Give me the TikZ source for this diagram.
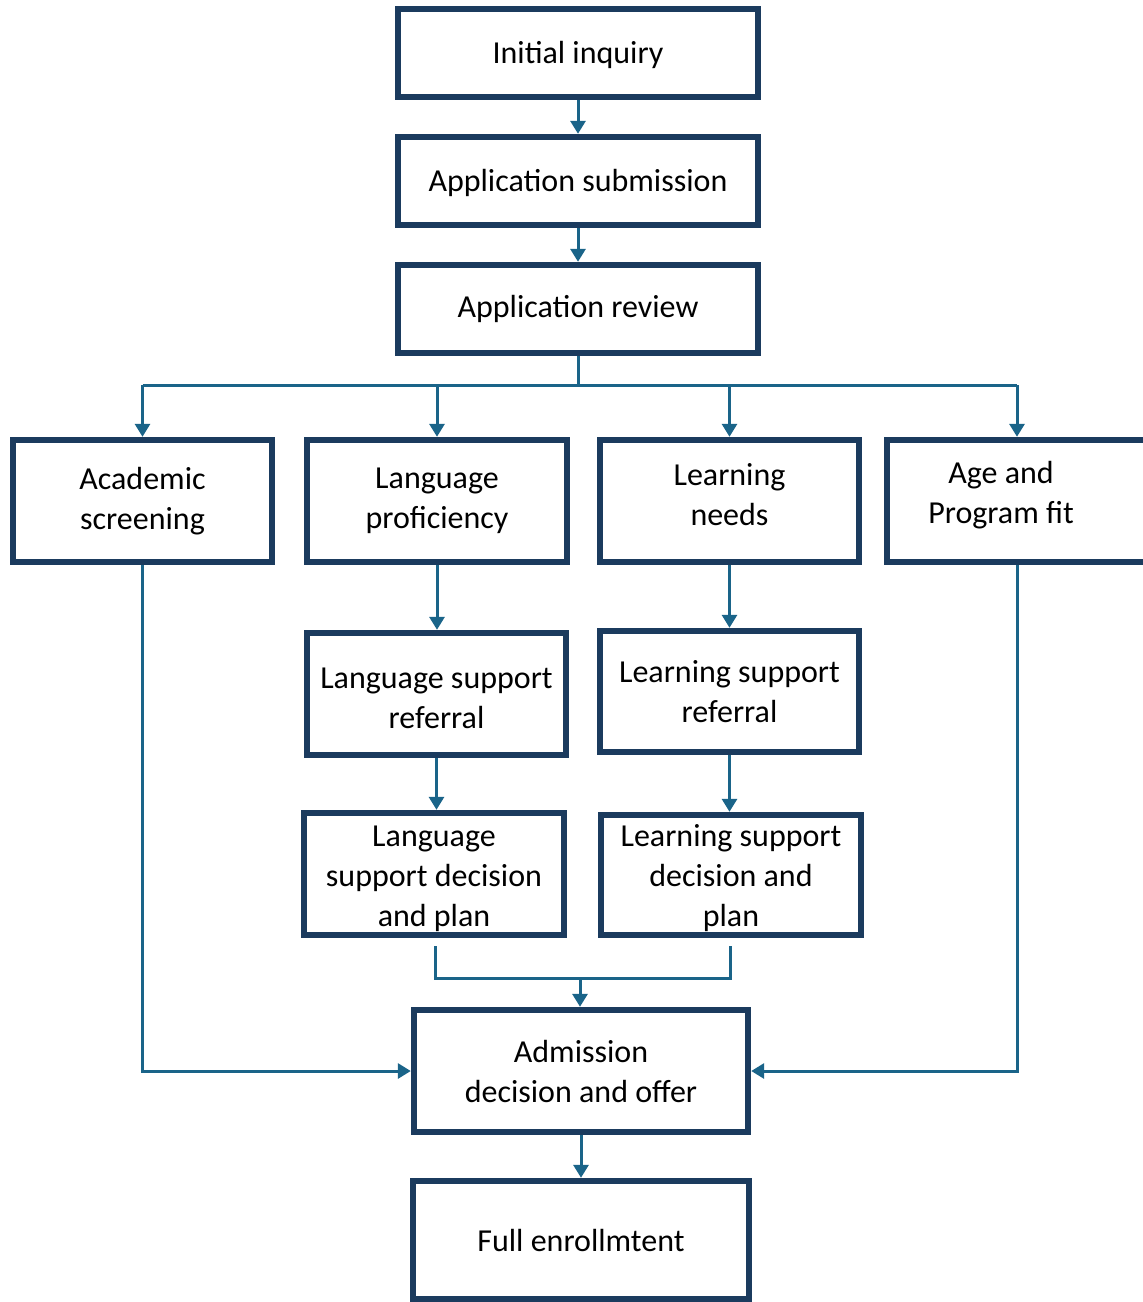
\documentclass[tikz,border=0pt]{standalone}
\usepackage{fontspec}
\setmainfont{Carlito}
\usetikzlibrary{arrows.meta}
\definecolor{boxnavy}{RGB}{27,59,94}
\definecolor{linkteal}{RGB}{26,100,137}
\begin{document}
\begin{tikzpicture}[x=0.5pt,y=-0.5pt,
  txt/.style={align=center, font=\fontsize{16pt}{20pt}\selectfont, inner sep=0pt},
  box/.style={draw=boxnavy, line width=3.2pt, fill=white, txt},
  lbl/.style={txt, draw=none, fill=none},
  link/.style={draw=linkteal, line width=1.5pt},
  arr/.style={link, -{Triangle[width=7.5pt,length=6.5pt]}}]
\clip (0,0) rectangle (1143,1302);
\fill[white] (0,0) rectangle (1143,1302);
% top chain
\node[box, minimum width=180pt, minimum height=44pt, text depth=0.5pt] (init) at (578,53) {Initial inquiry};
\node[box, minimum width=180pt, minimum height=44pt, text depth=0.5pt] (sub) at (578,181) {Application submission};
\node[box, minimum width=180pt, minimum height=44pt] (rev) at (578,309) {Application review};
% second row
\node[box, minimum width=129.5pt, minimum height=61pt] (acad) at (142.5,501) {Academic\\screening};
\node[box, minimum width=130pt, minimum height=61pt] (langp) at (437,501) {Language\\proficiency};
\node[box, minimum width=129.5pt, minimum height=61pt,
  label={[lbl, yshift=3pt]center:{Learning\\needs}}] (learn) at (729.5,501) {};
\node[box, minimum width=130pt, minimum height=61pt,
  label={[lbl, xshift=-8pt, yshift=3pt]center:{Age and\\Program fit}}] (age) at (1017,501) {};
% third row
\node[box, minimum width=129.5pt, minimum height=61pt,
  label={[lbl, yshift=-2pt]center:{Language support\\referral}}] (langref) at (436.5,694) {};
\node[box, minimum width=129.5pt, minimum height=60.5pt] (learnref) at (729.5,691.5) {Learning support\\referral};
% fourth row
\node[box, minimum width=130pt, minimum height=61pt,
  label={[lbl, yshift=-2.5pt]center:{Language\\support decision\\and plan}}] (langdec) at (434,874) {};
\node[box, minimum width=130pt, minimum height=60pt,
  label={[lbl, yshift=-1.5pt]center:{Learning support\\decision and\\plan}}] (learndec) at (731,875) {};
% bottom
\node[box, minimum width=167pt, minimum height=61pt] (adm) at (581,1071) {Admission\\decision and offer};
\node[box, minimum width=168pt, minimum height=59pt] (full) at (581,1240) {Full enrollmtent};
% connectors
\draw[arr] (init) -- (sub);
\draw[arr] (sub) -- (rev);
\coordinate (bus) at (578,385);
\draw[link] (rev.south) -- (bus);
\draw[link] (bus -| acad.north) -- (bus -| age.north);
\draw[arr] (bus -| acad.north) -- (acad.north);
\draw[arr] (bus -| langp.north) -- (langp.north);
\draw[arr] (bus -| learn.north) -- (learn.north);
\draw[arr] (bus -| age.north) -- (age.north);
\draw[arr] (langp.south) -- (langp.south |- langref.north);
\draw[arr] (learn.south) -- (learn.south |- learnref.north);
\draw[arr] (langref.south) -- (langref.south |- langdec.north);
\draw[arr] (learnref.south) -- (learnref.south |- learndec.north);
\coordinate (merge) at (580,978);
\coordinate (ltop) at (435,946);
\coordinate (rtop) at (730,946);
\draw[link] (ltop) -- (ltop |- merge) -- (rtop |- merge) -- (rtop);
\draw[arr] (merge) -- (merge |- adm.north);
\draw[arr] (acad.south) |- (adm.west);
\draw[arr] (age.south) |- (adm.east);
\draw[arr] (adm) -- (full);
\end{tikzpicture}
\end{document}
